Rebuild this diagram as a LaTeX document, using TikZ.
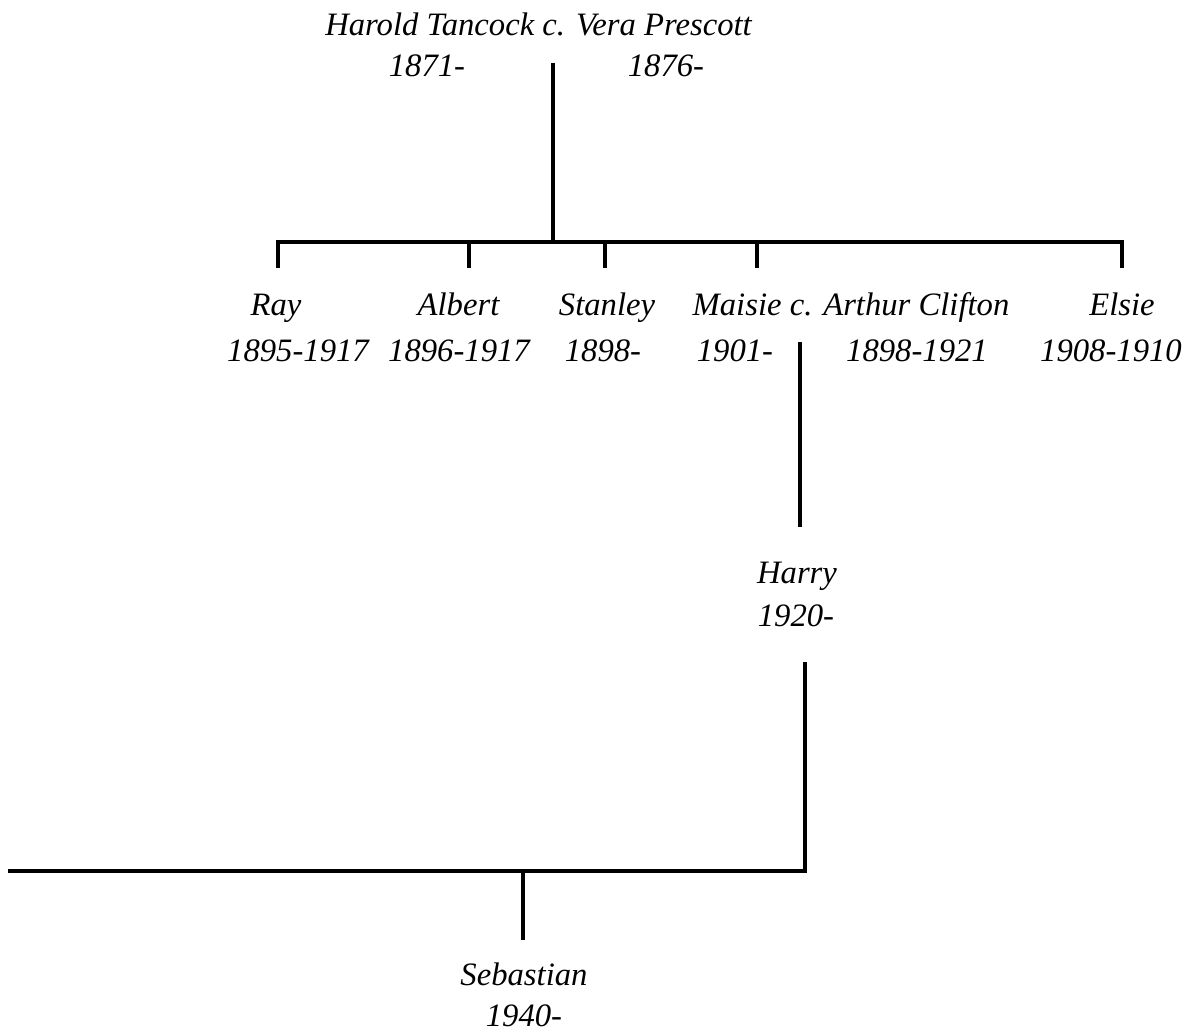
\documentclass[tikz,border=0pt]{standalone}
\usepackage{fontspec}
\setmainfont{Liberation Serif}
\begin{document}
\begin{tikzpicture}[x=0.75pt,y=-0.75pt,
  lbl/.style={anchor=base,inner sep=0pt,font=\fontsize{24.5}{29}\selectfont\itshape},
  conn/.style={line width=2.4pt,line join=miter,line cap=butt}]
\useasboundingbox (0,0) rectangle (1195,1034);
% parents
\node[lbl] (harold) at (538.5,36) {Harold Tancock c. Vera Prescott};
\node[lbl] (hdate) at (427,77) {1871-};
\node[lbl] (vdate) at (666,77) {1876-};
% children
\node[lbl] (ray) at (276,315) {Ray};
\node[lbl] (raydate) at (298,361) {1895-1917};
\node[lbl] (albert) at (458.5,315) {Albert};
\node[lbl] (albertdate) at (459,361) {1896-1917};
\node[lbl] (stanley) at (607,315) {Stanley};
\node[lbl] (stanleydate) at (603,361) {1898-};
\node[lbl] (maisie) at (851,315) {Maisie c. Arthur Clifton};
\node[lbl] (maisiedate) at (735,361) {1901-};
\node[lbl] (arthurdate) at (917,361) {1898-1921};
\node[lbl] (elsie) at (1122,315) {Elsie};
\node[lbl] (elsiedate) at (1111,361) {1908-1910};
% grandchild
\node[lbl] (harry) at (797,583) {Harry};
\node[lbl] (harrydate) at (796,626) {1920-};
% great-grandchild
\node[lbl] (sebastian) at (524,985) {Sebastian};
\node[lbl] (sebastiandate) at (524,1026) {1940-};
% junction coordinates
\coordinate (pTop) at (553,63);
\coordinate (pJ) at (553,242);
\coordinate (cRay) at (278,268);
\coordinate (cAlb) at (469,268);
\coordinate (cSta) at (605,268);
\coordinate (cMai) at (757,268);
\coordinate (cEls) at (1122,268);
\coordinate (mTop) at (800,342);
\coordinate (mBot) at (800,527);
\coordinate (hTop) at (805,662);
\coordinate (hJ) at (805,871);
\coordinate (sL) at (8,871);
\coordinate (sBot) at (523,940);
% connectors
\draw[conn] (pTop) -- (pJ);
\draw[conn] (cRay) -- (cRay |- pJ) -- (cEls |- pJ) -- (cEls);
\draw[conn] (cAlb) -- (cAlb |- pJ);
\draw[conn] (cSta) -- (cSta |- pJ);
\draw[conn] (cMai) -- (cMai |- pJ);
\draw[conn] (mTop) -- (mBot);
\draw[conn] (hTop) -- (hJ) -- (sL);
\draw[conn] (sBot) -- (sBot |- hJ);
\end{tikzpicture}
\end{document}
